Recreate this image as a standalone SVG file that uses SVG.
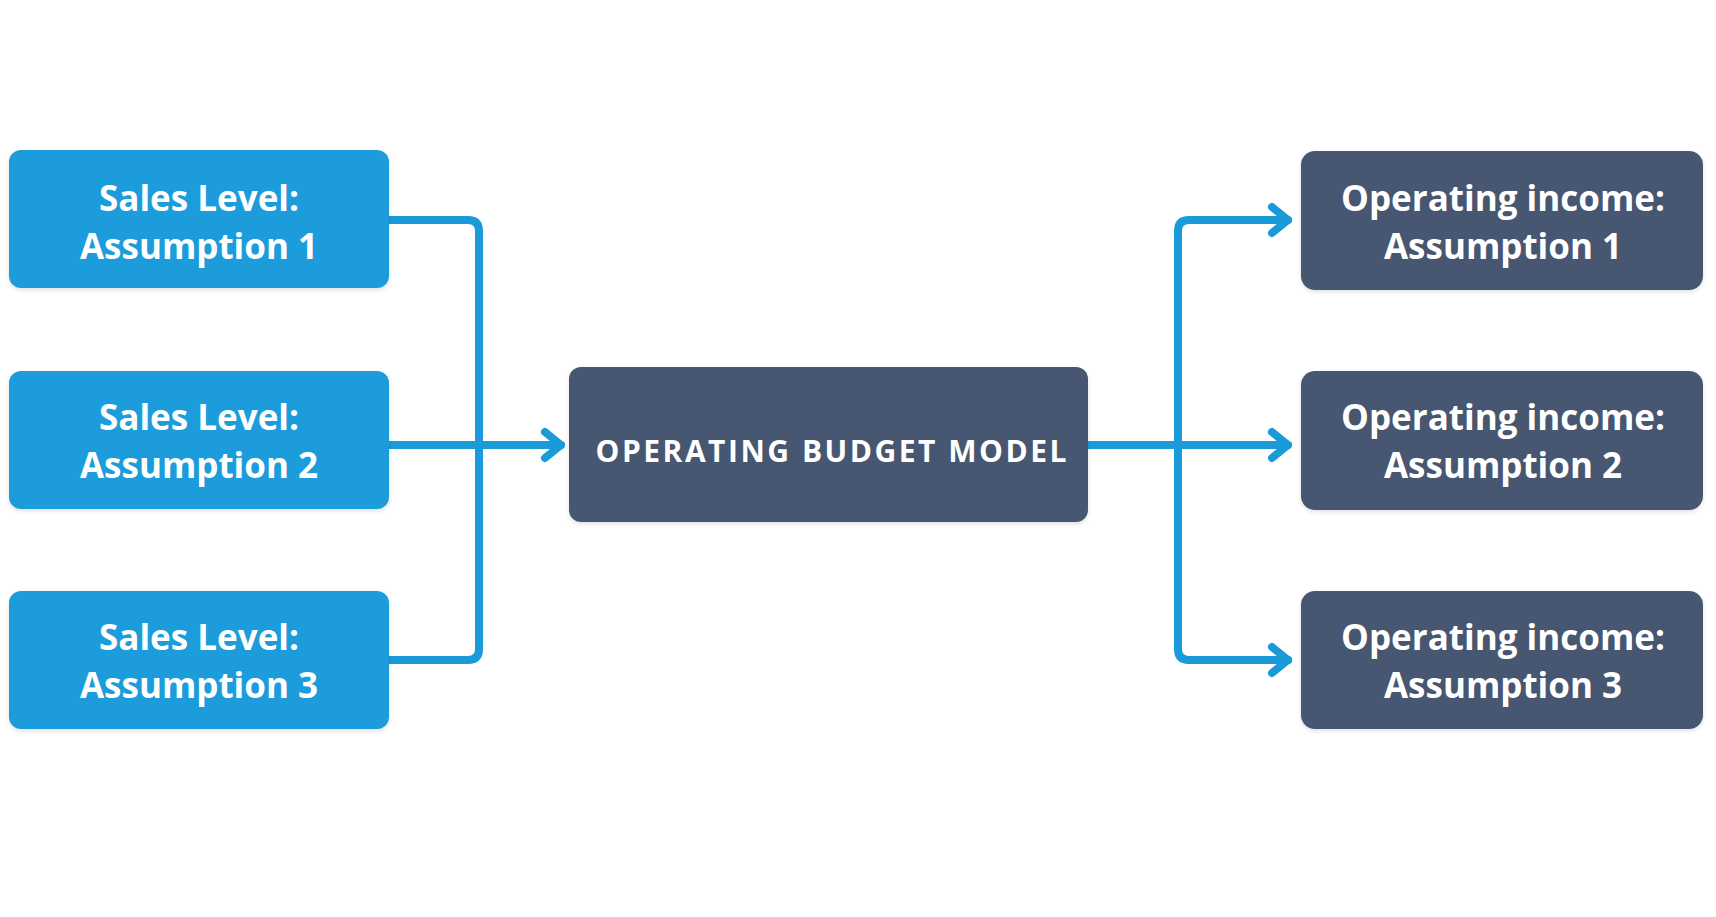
<svg xmlns="http://www.w3.org/2000/svg" width="1716" height="917" viewBox="0 0 1716 917">
<defs>
<style>
.blue{fill:#1E9CDB;}
.dark{fill:#475671;}
.lbl{font-family:"Open Sans","Liberation Sans",sans-serif;font-weight:700;font-size:35px;fill:#FFFFFF;text-anchor:middle;}
.mid{font-family:"Open Sans","Liberation Sans",sans-serif;font-weight:700;font-size:30px;fill:#FFFFFF;text-anchor:middle;}
.con{fill:none;stroke:#1B9AD9;stroke-width:8;stroke-linecap:round;stroke-linejoin:round;}
</style>
<marker id="arr" viewBox="0 0 28 36" refX="22" refY="18" markerWidth="28" markerHeight="36" markerUnits="userSpaceOnUse" orient="auto">
<path d="M6,5 L22,18 L6,31" fill="none" stroke="#1B9AD9" stroke-width="8" stroke-linecap="round" stroke-linejoin="round"/>
</marker>
<filter id="sh" x="-5%" y="-5%" width="110%" height="115%">
<feDropShadow dx="0" dy="2" stdDeviation="2" flood-color="#000" flood-opacity="0.12"/>
</filter>
</defs>
<rect width="1716" height="917" fill="#FFFFFF"/>
<g id="connectors">
<path class="con" d="M389,220 H468 Q479,220 479,231 V649 Q479,660 468,660 H389"/>
<path class="con" d="M389,445 H561" marker-end="url(#arr)"/>
<path class="con" d="M1088,445 H1288" marker-end="url(#arr)"/>
<path class="con" d="M1288,660 H1189 Q1178,660 1178,649 V231 Q1178,220 1189,220 H1288" marker-end="url(#arr)"/>
<path class="con" d="M1189,660 H1288" marker-end="url(#arr)"/>
</g>
<g id="sales1"><rect class="blue" x="9" y="150" width="380" height="138" rx="12" filter="url(#sh)"/><text class="lbl" x="199" y="211">Sales Level:</text><text class="lbl" x="199" y="259">Assumption 1</text></g>
<g id="sales2"><rect class="blue" x="9" y="371" width="380" height="138" rx="12" filter="url(#sh)"/><text class="lbl" x="199" y="430">Sales Level:</text><text class="lbl" x="199" y="478">Assumption 2</text></g>
<g id="sales3"><rect class="blue" x="9" y="591" width="380" height="138" rx="12" filter="url(#sh)"/><text class="lbl" x="199" y="650">Sales Level:</text><text class="lbl" x="199" y="698">Assumption 3</text></g>
<g id="model"><rect class="dark" x="569" y="367" width="519" height="155" rx="12" filter="url(#sh)"/><text class="mid" x="831" y="462" textLength="471" lengthAdjust="spacing">OPERATING BUDGET MODEL</text></g>
<g id="income1"><rect class="dark" x="1301" y="151" width="402" height="139" rx="14" filter="url(#sh)"/><text class="lbl" x="1503" y="211">Operating income:</text><text class="lbl" x="1503" y="259">Assumption 1</text></g>
<g id="income2"><rect class="dark" x="1301" y="371" width="402" height="139" rx="14" filter="url(#sh)"/><text class="lbl" x="1503" y="430">Operating income:</text><text class="lbl" x="1503" y="478">Assumption 2</text></g>
<g id="income3"><rect class="dark" x="1301" y="591" width="402" height="138" rx="14" filter="url(#sh)"/><text class="lbl" x="1503" y="650">Operating income:</text><text class="lbl" x="1503" y="698">Assumption 3</text></g>
</svg>
